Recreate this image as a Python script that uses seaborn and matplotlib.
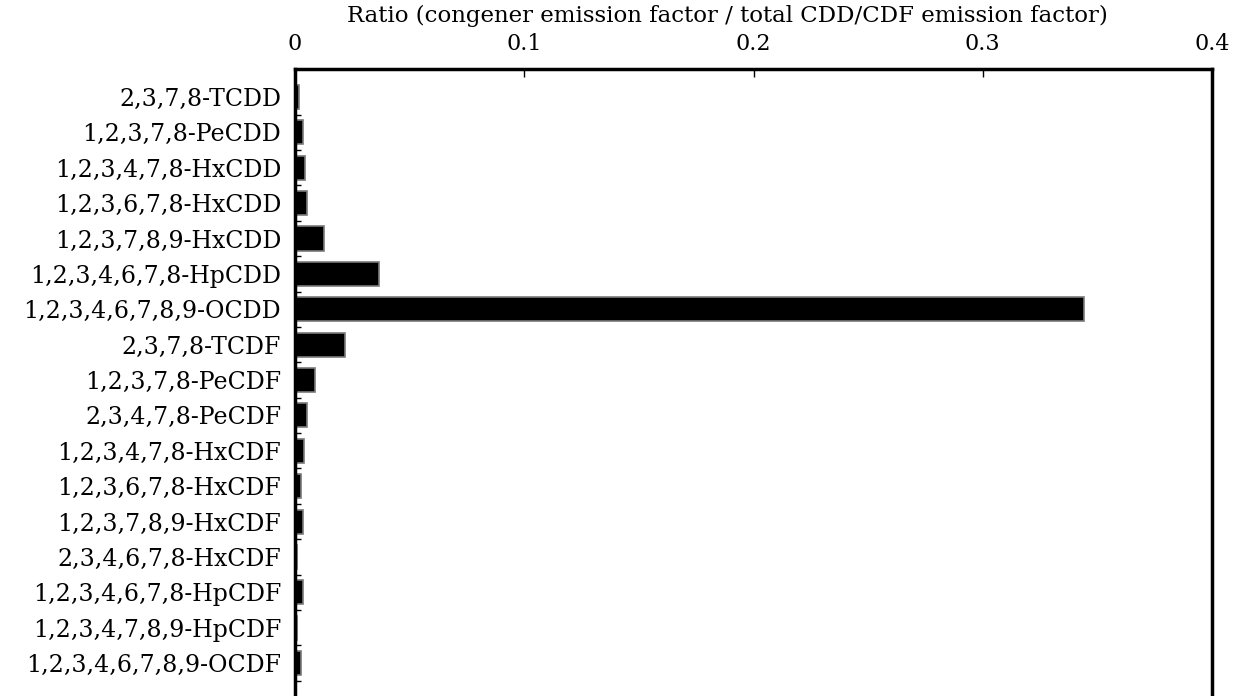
import pandas as pd
import seaborn as sns
from matplotlib import pyplot as plt

# congeners, top to bottom
congeners = ['2,3,7,8-TCDD', '1,2,3,7,8-PeCDD', '1,2,3,4,7,8-HxCDD', '1,2,3,6,7,8-HxCDD',
             '1,2,3,7,8,9-HxCDD', '1,2,3,4,6,7,8-HpCDD', '1,2,3,4,6,7,8,9-OCDD',
             '2,3,7,8-TCDF', '1,2,3,7,8-PeCDF', '2,3,4,7,8-PeCDF', '1,2,3,4,7,8-HxCDF',
             '1,2,3,6,7,8-HxCDF', '1,2,3,7,8,9-HxCDF', '2,3,4,6,7,8-HxCDF',
             '1,2,3,4,6,7,8-HpCDF', '1,2,3,4,7,8,9-HpCDF', '1,2,3,4,6,7,8,9-OCDF']
ratios = [0.0017, 0.0035, 0.0044, 0.0052, 0.0127, 0.0367, 0.344,
          0.0218, 0.0087, 0.0052, 0.0040, 0.0026, 0.0035, 0.0008,
          0.0033, 0.0007, 0.0024]
xticks = [0, 0.1, 0.2, 0.3, 0.4]
xticklabels = ['0', '0.1', '0.2', '0.3', '0.4']

df = pd.DataFrame({'congener': congeners, 'ratio': ratios})

sns.set_style('white')
plt.rcParams['font.family'] = ['DejaVu Serif']
plt.rcParams['text.color'] = 'black'
plt.rcParams['xtick.color'] = 'black'
plt.rcParams['ytick.color'] = 'black'
plt.rcParams['axes.labelcolor'] = 'black'

fig = plt.figure(figsize=(12.34, 6.96), dpi=100)
ax = fig.add_axes([295 / 1234, 0, (1212 - 295) / 1234, (696 - 69) / 696])

sns.barplot(data=df, x='ratio', y='congener', orient='h', color='black',
            edgecolor='#7a7a7a', linewidth=1.2, width=0.68, ax=ax, saturation=1)

# x axis on top
ax.set_xlim(0, 0.4)
ax.set_ylim(16.93, -0.79)
ax.xaxis.set_ticks_position('top')
ax.xaxis.set_label_position('top')
ax.set_xticks(xticks)
ax.set_xticklabels(xticklabels, fontsize=16)
ax.tick_params(axis='x', direction='in', length=6, width=1, pad=10, top=True, bottom=False)
ax.set_xlabel('Ratio (congener emission factor / total CDD/CDF emission factor)',
              fontsize=16.5, labelpad=4)
ax.xaxis.set_label_coords(0.472, 1.0 + 47 / 627)
ax.set_ylabel('')

# small ticks between the rows
ax.set_yticks(range(len(congeners)))
ax.set_yticklabels(congeners, fontsize=17)
ax.tick_params(axis='y', which='major', length=0, pad=10)
ax.set_yticks([i + 0.5 for i in range(len(congeners))], minor=True)
ax.tick_params(axis='y', which='minor', direction='in', length=4, width=1, left=True)

for side in ['top', 'left', 'right']:
    ax.spines[side].set_visible(True)
    ax.spines[side].set_color('black')
    ax.spines[side].set_linewidth(2.5)
ax.spines['bottom'].set_visible(False)

plt.savefig('out.png', dpi=100)
